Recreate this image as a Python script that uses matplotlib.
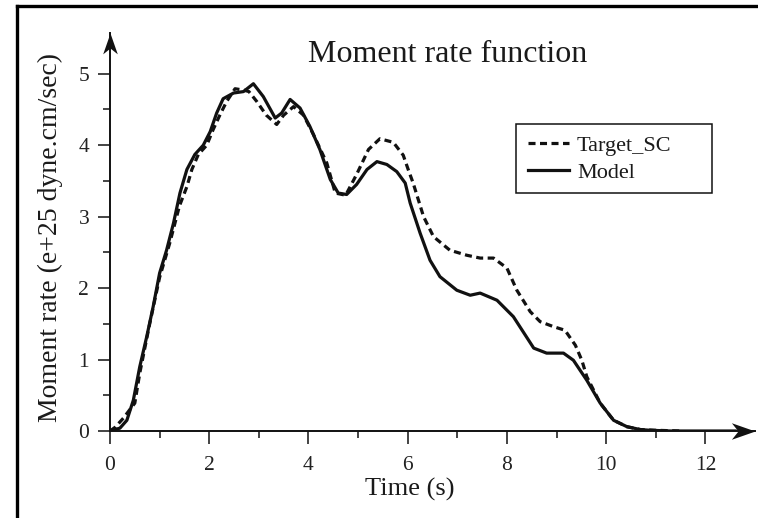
import numpy as np
import matplotlib
matplotlib.use("Agg")
import matplotlib.pyplot as plt
from matplotlib.path import Path
from matplotlib.lines import Line2D
from matplotlib.patches import Rectangle
import matplotlib.ticker as ticker

plt.rcParams['font.family'] = ['Liberation Serif', 'DejaVu Serif']

# moment rate, e+25 dyne.cm/sec
t_model = [0, 0.2, 0.34, 0.47, 0.6, 0.74, 0.87, 1.0, 1.14, 1.28, 1.41, 1.55, 1.71, 1.88,
           2.02, 2.15, 2.28, 2.49, 2.69, 2.89, 3.09, 3.33, 3.46, 3.63, 3.83, 4.03, 4.23,
           4.44, 4.6, 4.77, 4.97, 5.18, 5.38, 5.58, 5.78, 5.95, 6.05, 6.25, 6.45, 6.65,
           6.99, 7.26, 7.46, 7.8, 8.13, 8.54, 8.8, 9.14, 9.34, 9.61, 9.88, 10.15, 10.42,
           10.69, 10.89, 11.3, 12.0, 12.6]
m_model = [0, 0.04, 0.15, 0.43, 0.9, 1.32, 1.74, 2.21, 2.53, 2.91, 3.33, 3.66, 3.87, 4.0,
           4.19, 4.45, 4.65, 4.73, 4.75, 4.86, 4.68, 4.38, 4.45, 4.64, 4.52, 4.26, 3.94,
           3.52, 3.33, 3.31, 3.45, 3.66, 3.77, 3.73, 3.63, 3.47, 3.19, 2.77, 2.39, 2.16,
           1.97, 1.90, 1.93, 1.83, 1.60, 1.16, 1.09, 1.09, 0.99, 0.71, 0.39, 0.15, 0.06,
           0.02, 0.01, 0, 0, 0]

t_target = [0, 0.1, 0.27, 0.4, 0.5, 0.6, 0.8, 1.0, 1.2, 1.4, 1.55, 1.65, 1.78, 1.95,
            2.08, 2.22, 2.35, 2.52, 2.7, 2.8, 2.96, 3.15, 3.36, 3.5, 3.7, 3.9, 4.1, 4.37,
            4.54, 4.75, 4.97, 5.21, 5.44, 5.71, 5.91, 6.01, 6.11, 6.32, 6.52, 6.85, 7.19,
            7.46, 7.73, 8.0, 8.2, 8.47, 8.67, 8.94, 9.17, 9.38, 9.51, 9.61, 9.88, 10.15,
            10.42, 10.69, 11.0, 11.5]
m_target = [0, 0.05, 0.18, 0.3, 0.39, 0.81, 1.5, 2.15, 2.62, 3.15, 3.42, 3.66, 3.87, 4.0,
            4.22, 4.43, 4.61, 4.79, 4.77, 4.75, 4.61, 4.42, 4.29, 4.42, 4.54, 4.42, 4.15, 3.75,
            3.33, 3.3, 3.59, 3.94, 4.09, 4.04, 3.86, 3.66, 3.47, 3.0, 2.72, 2.53, 2.46,
            2.42, 2.42, 2.28, 1.97, 1.67, 1.53, 1.46, 1.41, 1.2, 0.99, 0.76, 0.39, 0.15,
            0.06, 0.02, 0.01, 0]

W, H = 758, 518
fig = plt.figure(figsize=(W / 100, H / 100), dpi=100)
ax = fig.add_axes([110 / W, 1 - 431 / H, (755 - 110) / W, (431 - 33) / H])

ink = '#111111'
ax.plot(t_target, m_target, color=ink, lw=2.3, dashes=(2.2, 1.4), label='Target_SC')
ax.plot(t_model, m_model, color=ink, lw=2.3, label='Model')

ax.set_xlim(0, 13.0)
ax.set_ylim(0, 5.57)
for s in ['top', 'right']:
    ax.spines[s].set_visible(False)
for s in ['left', 'bottom']:
    ax.spines[s].set_linewidth(1.4)
    ax.spines[s].set_color(ink)

ax.xaxis.set_major_locator(ticker.FixedLocator(range(0, 13, 2)))
ax.xaxis.set_minor_locator(ticker.FixedLocator(range(1, 12, 2)))
ax.yaxis.set_major_locator(ticker.FixedLocator(range(0, 6)))
ax.yaxis.set_minor_locator(ticker.FixedLocator(np.arange(0.5, 5.0, 1.0)))
ax.tick_params(which='major', direction='out', length=9, width=1.1, color=ink,
               labelsize=15.5, labelcolor='#222222')
ax.tick_params(axis='x', which='major', pad=9)
ax.tick_params(axis='y', which='major', pad=6)
ax.tick_params(which='minor', direction='out', length=5, width=1.1, color=ink)

# arrow heads on the axes
head_x = Path([(0, 0), (-1, 0.35), (-0.72, 0), (-1, -0.35), (0, 0)],
              [Path.MOVETO, Path.LINETO, Path.LINETO, Path.LINETO, Path.CLOSEPOLY])
head_y = Path([(0, 0), (0.35, -1), (0, -0.72), (-0.35, -1), (0, 0)],
              [Path.MOVETO, Path.LINETO, Path.LINETO, Path.LINETO, Path.CLOSEPOLY])
ax.plot([13.0], [0], marker=head_x, markersize=34, color=ink, mew=0, clip_on=False)
ax.plot([0], [5.57], marker=head_y, markersize=30, color=ink, mew=0, clip_on=False)

fig.text(448 / W, 1 - 55 / H, 'Moment rate function', fontsize=23, ha='center',
         va='center', color='#1a1a1a')
fig.text(410 / W, 1 - 489 / H, 'Time (s)', fontsize=19, ha='center', va='center',
         color='#1a1a1a')
fig.text(50 / W, 1 - 238 / H, 'Moment rate (e+25 dyne.cm/sec)', fontsize=20,
         rotation=90, ha='center', va='center', color='#1a1a1a')

leg = ax.legend(loc='upper left', bbox_to_anchor=(528 / W, 1 - 135 / H),
                bbox_transform=fig.transFigure, frameon=False, fontsize=16,
                handlelength=1.85, handletextpad=0.35, labelspacing=0.3, borderpad=0,
                borderaxespad=0)
for txt in leg.get_texts():
    txt.set_color('#1a1a1a')
fig.patches.append(Rectangle((516 / W, 1 - 193 / H), 196 / W, 69 / H,
                             transform=fig.transFigure, fill=False, lw=1.1,
                             edgecolor=ink))

# page frame
fig.add_artist(Line2D([17 / W, 1], [1 - 6 / H, 1 - 6 / H], transform=fig.transFigure,
                      color='black', lw=2.4))
fig.add_artist(Line2D([17 / W, 17 / W], [0, 1 - 6 / H], transform=fig.transFigure,
                      color='black', lw=2.4))

fig.savefig('out.png', dpi=100)
